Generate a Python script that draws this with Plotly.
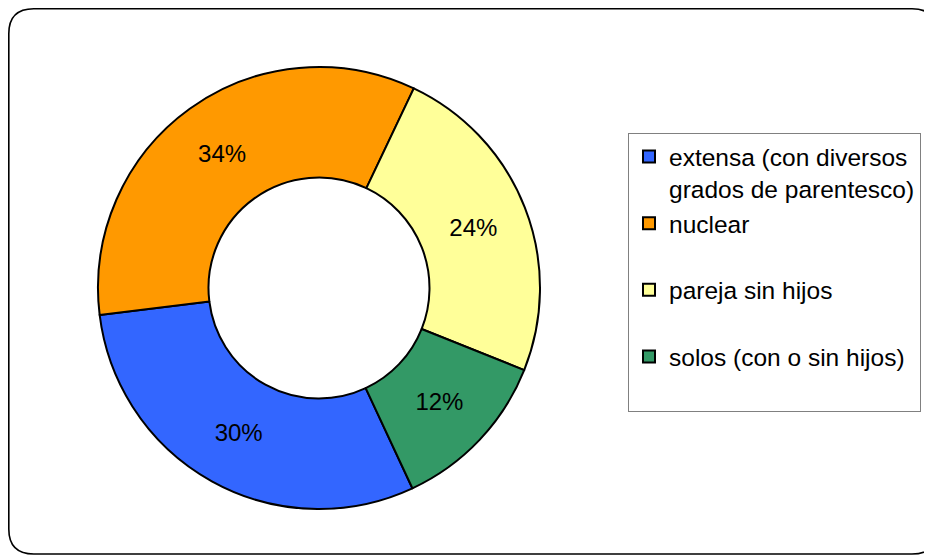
import plotly.graph_objects as go

# Data
categories = ["extensa (con diversos<br>grados de parentesco)", "nuclear", "pareja sin hijos", "solos (con o sin hijos)"]
values = [30, 34, 24, 12]
colors = ["#3366FF", "#FF9900", "#FFFF99", "#339966"]

# the page body adds an 8px offset, so the figure is 8px smaller and coordinates are shifted
OFF = 8
W, H = 932 - OFF, 556 - OFF
FONT = "Liberation Sans, Arial, sans-serif"

# legend labels padded with an empty line so entries are spread like the original
legend_labels = [c if "<br>" in c else c + "<br> " for c in categories]

cx, cy, R = 319 - OFF, 288 - OFF, 221
dom_x = [(cx - R) / W, (cx + R) / W]
dom_y = [1 - (cy + R) / H, 1 - (cy - R) / H]

fig = go.Figure(go.Pie(
    labels=legend_labels,
    values=values,
    sort=False,
    direction="clockwise",
    rotation=155,
    hole=0.5,
    marker=dict(colors=colors, line=dict(color="black", width=2)),
    textinfo="percent",
    textposition="inside",
    insidetextorientation="horizontal",
    textfont=dict(family=FONT, size=24, color="black"),
    domain=dict(x=dom_x, y=dom_y),
    hoverinfo="label+percent",
))

# rounded chart-area border
x0, x1 = 0.8 / W, 929 / W
yt, yb = 1 - 0.8 / H, 1 - 546 / H
rx, ry = 25 / W, 25 / H
path = (f"M {x0+rx},{yt} L {x1-rx},{yt} Q {x1},{yt} {x1},{yt-ry} "
        f"L {x1},{yb+ry} Q {x1},{yb} {x1-rx},{yb} L {x0+rx},{yb} "
        f"Q {x0},{yb} {x0},{yb+ry} L {x0},{yt-ry} Q {x0},{yt} {x0+rx},{yt} Z")

fig.update_layout(
    width=W, height=H,
    margin=dict(l=0, r=0, t=0, b=0),
    paper_bgcolor="white",
    plot_bgcolor="white",
    font=dict(family=FONT, size=24.5, color="black"),
    showlegend=True,
    legend=dict(
        x=(628 - OFF) / W, y=1 - (133 - OFF) / H, xanchor="left", yanchor="top",
        bordercolor="#808080", borderwidth=1, bgcolor="white",
        font=dict(family=FONT, size=24.5, color="black"),
        valign="top", traceorder="normal",
    ),
    shapes=[dict(type="path", xref="paper", yref="paper", path=path,
                 line=dict(color="black", width=1.6), layer="above")],
)

fig.write_html("out.html")
